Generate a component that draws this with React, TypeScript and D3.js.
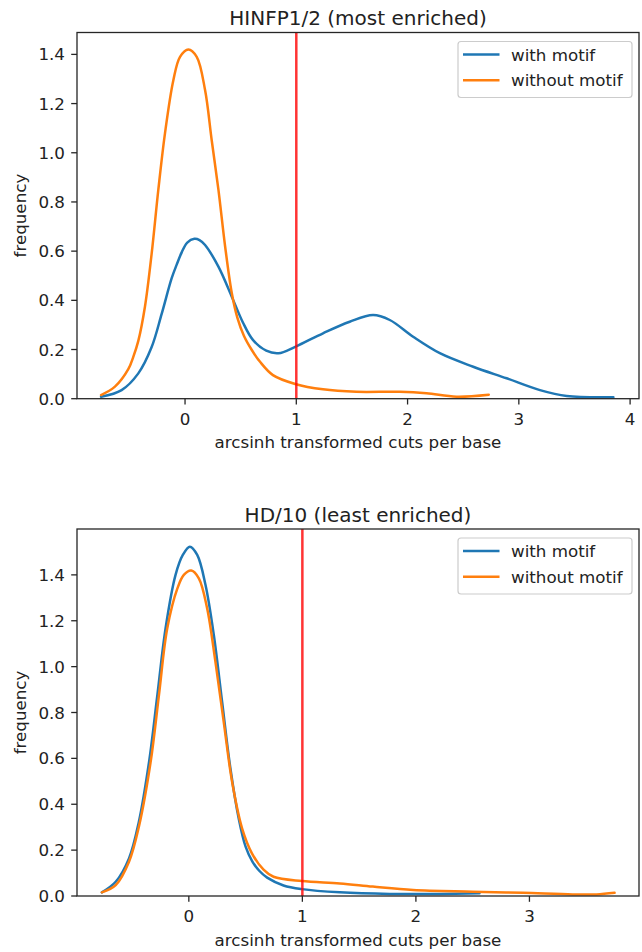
import React from "react";
import * as d3 from "d3";

// ---------- data ----------
const topTitle = "HINFP1/2 (most enriched)";
const bottomTitle = "HD/10 (least enriched)";
const seriesNames = ["with motif", "without motif"];
const xLabel = "arcsinh transformed cuts per base";
const yLabel = "frequency";
const threshold = 1;

const topWithX = [-0.755, -0.57, -0.42, -0.3, -0.21, -0.12, -0.075, -0.03, 0.02, 0.084, 0.13, 0.18, 0.3, 0.42, 0.52, 0.61, 0.73, 0.84, 0.99, 1.24, 1.48, 1.69, 1.84, 2.05, 2.29, 2.59, 2.89, 3.19, 3.43, 3.85];
const topWithY = [0.008, 0.035, 0.103, 0.21, 0.345, 0.49, 0.545, 0.595, 0.635, 0.65, 0.645, 0.625, 0.537, 0.415, 0.31, 0.239, 0.195, 0.185, 0.211, 0.266, 0.313, 0.34, 0.32, 0.252, 0.185, 0.13, 0.083, 0.035, 0.011, 0.006];
const topWithoutX = [-0.755, -0.63, -0.51, -0.465, -0.42, -0.36, -0.3, -0.24, -0.18, -0.105, -0.045, 0.03, 0.105, 0.18, 0.24, 0.3, 0.36, 0.42, 0.47, 0.53, 0.6, 0.674, 0.79, 0.99, 1.24, 1.54, 1.93, 2.17, 2.44, 2.73];
const topWithoutY = [0.015, 0.049, 0.12, 0.17, 0.235, 0.375, 0.59, 0.85, 1.08, 1.295, 1.39, 1.42, 1.39, 1.255, 1.05, 0.85, 0.62, 0.43, 0.33, 0.255, 0.198, 0.15, 0.096, 0.06, 0.038, 0.028, 0.028, 0.022, 0.008, 0.016];

const botWithX = [-0.766, -0.644, -0.527, -0.44, -0.35, -0.277, -0.205, -0.117, -0.053, 0.009, 0.074, 0.147, 0.22, 0.293, 0.366, 0.439, 0.5, 0.56, 0.62, 0.69, 0.834, 0.996, 1.33, 1.77, 2.21, 2.56];
const botWithY = [0.016, 0.062, 0.164, 0.324, 0.586, 0.877, 1.167, 1.4, 1.487, 1.523, 1.487, 1.356, 1.138, 0.847, 0.557, 0.339, 0.215, 0.15, 0.11, 0.08, 0.046, 0.03, 0.016, 0.009, 0.009, 0.012];
const botWithoutX = [-0.766, -0.644, -0.527, -0.44, -0.336, -0.263, -0.19, -0.1, -0.044, 0.021, 0.088, 0.161, 0.234, 0.307, 0.381, 0.469, 0.557, 0.658, 0.746, 0.996, 1.33, 1.62, 1.975, 2.5, 2.94, 3.38, 3.59, 3.75];
const botWithoutY = [0.016, 0.047, 0.149, 0.302, 0.586, 0.877, 1.167, 1.342, 1.4, 1.419, 1.385, 1.255, 1.022, 0.76, 0.498, 0.295, 0.185, 0.115, 0.084, 0.065, 0.055, 0.041, 0.026, 0.019, 0.014, 0.007, 0.007, 0.014];

const yTicks = [0, 0.2, 0.4, 0.6, 0.8, 1.0, 1.2, 1.4];
const topXTicks = [0, 1, 2, 3, 4];
const botXTicks = [0, 1, 2, 3];

const colors = ["#1f77b4", "#ff7f0e"];
const FONT = "DejaVu Sans, sans-serif";
const FS = 16.7;

type Panel = {
  title: string;
  top: number;
  bottom: number;
  xDomain: [number, number];
  yDomain: [number, number];
  xTicks: number[];
  series: { x: number[]; y: number[] }[];
};

const LEFT = 77;
const RIGHT = 639;

const panels: Panel[] = [
  {
    title: topTitle,
    top: 32.5,
    bottom: 398.7,
    xDomain: [-0.971, 4.08],
    yDomain: [0, 1.489],
    xTicks: topXTicks,
    series: [
      { x: topWithX, y: topWithY },
      { x: topWithoutX, y: topWithoutY },
    ],
  },
  {
    title: bottomTitle,
    top: 529,
    bottom: 896,
    xDomain: [-0.985, 3.965],
    yDomain: [0, 1.6],
    xTicks: botXTicks,
    series: [
      { x: botWithX, y: botWithY },
      { x: botWithoutX, y: botWithoutY },
    ],
  },
];

function PanelView({ p }: { p: Panel }) {
  const x = d3.scaleLinear().domain(p.xDomain).range([LEFT, RIGHT]);
  const y = d3.scaleLinear().domain(p.yDomain).range([p.bottom, p.top]);
  const line = d3
    .line<[number, number]>()
    .x((d) => x(d[0]))
    .y((d) => y(d[1]))
    .curve(d3.curveCatmullRom.alpha(0.5));
  const cx = (LEFT + RIGHT) / 2;
  const cy = (p.top + p.bottom) / 2;
  const axisColor = "#262626";
  const legTop = p.top + 9;
  const legRight = RIGHT - 7;
  const legLeft = 458;
  return (
    <g>
      <text x={cx} y={p.top - 7.5} textAnchor="middle" fontSize={20} fontFamily={FONT} fill="#222">
        {p.title}
      </text>
      {p.series.map((s, i) => (
        <path
          key={i}
          d={line(s.x.map((v, j) => [v, s.y[j]] as [number, number])) || ""}
          fill="none"
          stroke={colors[i]}
          strokeWidth={2.5}
          strokeLinejoin="round"
          strokeLinecap="round"
        />
      ))}
      <line x1={x(threshold)} x2={x(threshold)} y1={p.top} y2={p.bottom} stroke="red" strokeOpacity={0.8} strokeWidth={2.5} />
      {/* spines */}
      <rect x={LEFT} y={p.top} width={RIGHT - LEFT} height={p.bottom - p.top} fill="none" stroke={axisColor} strokeWidth={1.3} />
      {/* y ticks */}
      {yTicks.map((t) => (
        <g key={"y" + t}>
          <line x1={LEFT - 5.8} x2={LEFT} y1={y(t)} y2={y(t)} stroke={axisColor} strokeWidth={1.3} />
          <text x={LEFT - 12} y={y(t) + 6} textAnchor="end" fontSize={FS} fontFamily={FONT} fill="#222">
            {t.toFixed(1)}
          </text>
        </g>
      ))}
      {/* x ticks */}
      {p.xTicks.map((t) => (
        <g key={"x" + t}>
          <line x1={x(t)} x2={x(t)} y1={p.bottom} y2={p.bottom + 5.8} stroke={axisColor} strokeWidth={1.3} />
          <text x={x(t)} y={p.bottom + 26} textAnchor="middle" fontSize={FS} fontFamily={FONT} fill="#222">
            {String(t)}
          </text>
        </g>
      ))}
      <text x={cx} y={p.bottom + 49.5} textAnchor="middle" fontSize={FS} fontFamily={FONT} fill="#222">
        {xLabel}
      </text>
      <text
        transform={`translate(26,${cy}) rotate(-90)`}
        textAnchor="middle"
        fontSize={FS}
        fontFamily={FONT}
        fill="#222"
      >
        {yLabel}
      </text>
      {/* legend */}
      <rect
        x={legLeft}
        y={legTop}
        width={legRight - legLeft}
        height={56}
        rx={3}
        fill="white"
        fillOpacity={0.8}
        stroke="#cccccc"
        strokeWidth={1.2}
      />
      {seriesNames.map((n, i) => {
        const ly = legTop + 13 + i * 25.7;
        return (
          <g key={n}>
            <line x1={463} x2={499.5} y1={ly} y2={ly} stroke={colors[i]} strokeWidth={2.5} />
            <text x={511} y={ly + 6} fontSize={FS} fontFamily={FONT} fill="#222">
              {n}
            </text>
          </g>
        );
      })}
    </g>
  );
}

export default function App() {
  return (
    <div style={{ position: "absolute", left: 0, top: 0 }}>
      <svg width={642} height={952} style={{ display: "block", background: "white" }}>
        {panels.map((p, i) => (
          <PanelView key={i} p={p} />
        ))}
      </svg>
    </div>
  );
}
